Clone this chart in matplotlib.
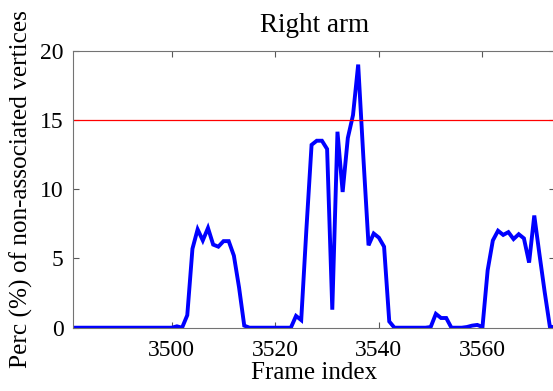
import numpy as np
import matplotlib
matplotlib.use("Agg")
import matplotlib.pyplot as plt

# frame indices and percentage of non-associated vertices (right arm)
frames = np.arange(3481, 3575)
perc = [0.0] * 19 + [
    0.0, 0.1, 0.0, 0.9, 5.7, 7.1, 6.3, 7.2, 6.0, 5.85,   # 3500-3509
    6.25, 6.25, 5.2, 2.9, 0.15, 0.0, 0.0, 0.0, 0.0, 0.0,  # 3510-3519
    0.0, 0.0, 0.0, 0.0, 0.85, 0.55, 7.1, 13.2, 13.5, 13.5,  # 3520-3529
    12.9, 1.3, 14.15, 9.8, 13.7, 15.35, 19.0, 12.3, 5.95, 6.8,  # 3530-3539
    6.5, 5.85, 0.45, 0.0, 0.0, 0.0, 0.0, 0.0, 0.0, 0.0,  # 3540-3549
    0.05, 1.0, 0.7, 0.7, 0.0, 0.0, 0.0, 0.05, 0.15, 0.2,  # 3550-3559
    0.05, 4.15, 6.3, 7.0, 6.7, 6.9, 6.4, 6.75, 6.45, 4.7,  # 3560-3569
    8.1, 5.3, 2.6, 0.1, 0.0,                               # 3570-3574
]
threshold = 15

plt.rcParams['font.family'] = ['Liberation Serif', 'DejaVu Serif']

fig = plt.figure(figsize=(5.53, 3.91), dpi=100)
ax = fig.add_axes([0.1326, 0.1619, 0.871, 0.7084])

ax.plot(frames, perc, color='#0000ff', linewidth=2.8, solid_joinstyle='miter')
ax.axhline(threshold, color='#ff0000', linewidth=0.9)

ax.set_xlim(3481, 3574)
ax.set_ylim(0, 20)
ax.set_xticks([3500, 3520, 3540, 3560])
ax.set_yticks([0, 5, 10, 15, 20])

ax.set_title("Right arm", fontsize=19.5, pad=13.5)
ax.set_xlabel("Frame index", fontsize=18, labelpad=1)
ax.set_ylabel("Perc (%) of non-associated vertices", fontsize=18.2, labelpad=5)

ax.tick_params(direction='in', top=True, right=True, length=4, width=0.8,
               color='0.35', labelsize=17)
ax.tick_params(axis='x', pad=8.5)
ax.tick_params(axis='y', pad=7)
for s in ax.spines.values():
    s.set_color('0.45')
    s.set_linewidth(0.8)

fig.savefig("out.png", dpi=100)
